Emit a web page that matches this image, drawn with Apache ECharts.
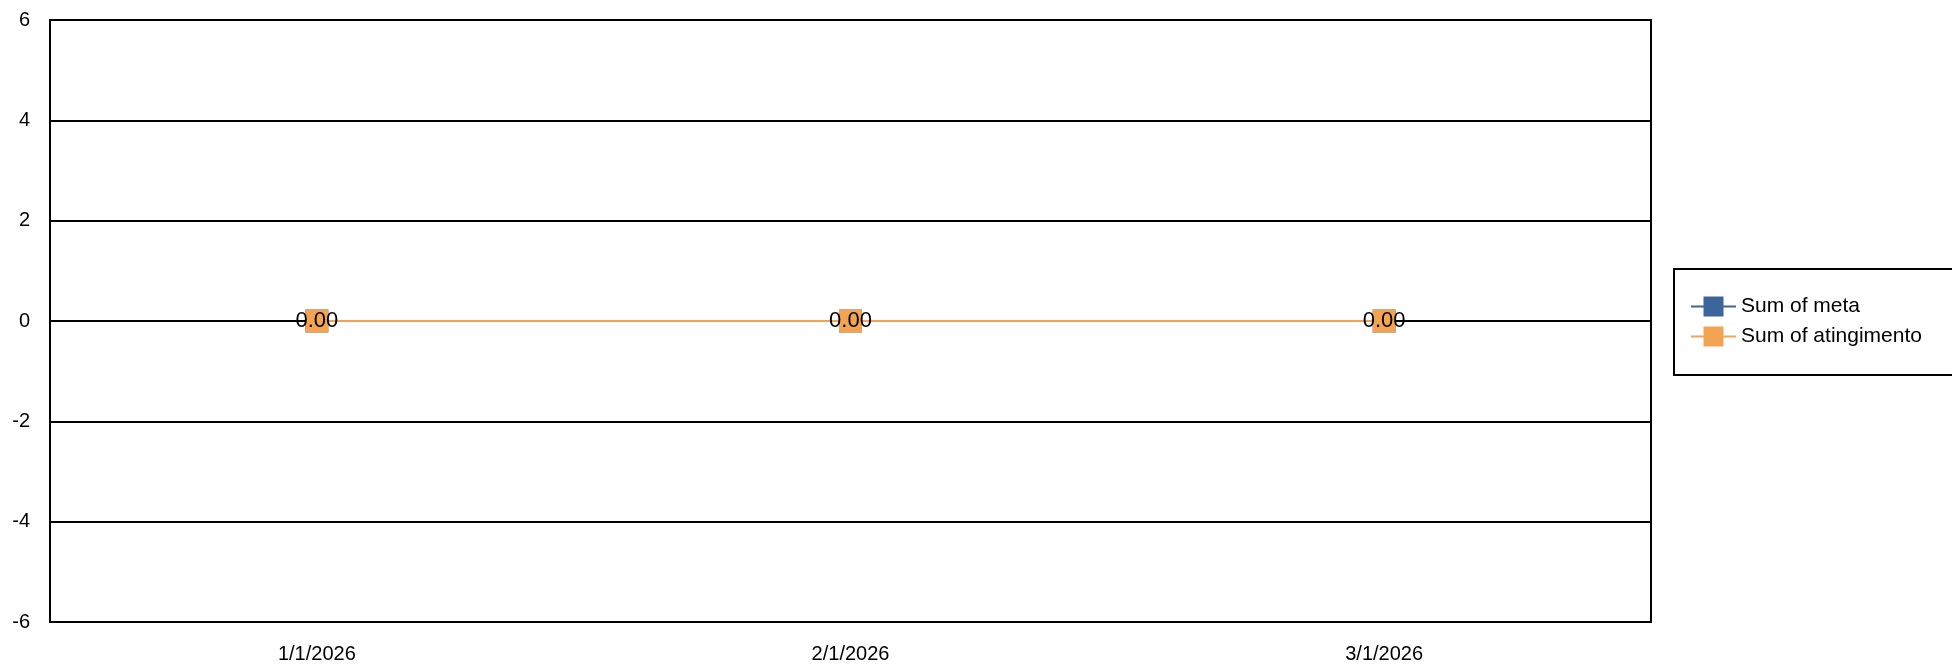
<!DOCTYPE html>
<html>
<head>
<meta charset="utf-8">
<script src="https://cdn.jsdelivr.net/npm/echarts@6/dist/echarts.min.js"></script>
<style>
  html, body { margin: 0; padding: 0; background: #fff; }
  #main { width: 1952px; height: 665px; }
</style>
</head>
<body>
<div id="main"></div>
<script>
// dados do gráfico
var categories = ['1/1/2026', '2/1/2026', '3/1/2026'];
var metaValues = [0, 0, 0];
var atingimentoValues = [0, 0, 0];
var yTicks = { min: -6, max: 6, step: 2 };

var chart = echarts.init(document.getElementById('main'));
var fontFamily = 'Arial, "Liberation Sans", sans-serif';

chart.setOption({
    animation: false,
    backgroundColor: '#fff',
    grid: {
        left: 50,
        right: 301,
        top: 20,
        bottom: 43,
        show: true,
        borderColor: '#000',
        borderWidth: 2,
        backgroundColor: 'transparent'
    },
    legend: {
        orient: 'vertical',
        left: 1674,
        top: 269,
        padding: [27, 120, 28, 16],
        itemGap: 9,
        itemWidth: 45,
        itemHeight: 25,
        borderColor: '#000',
        borderWidth: 2,
        textStyle: { color: '#000', fontSize: 21, fontFamily: fontFamily },
        data: ['Sum of meta', 'Sum of atingimento']
    },
    xAxis: {
        type: 'category',
        data: categories,
        boundaryGap: true,
        axisLine: { show: false },
        axisTick: { show: false },
        axisLabel: { color: '#000', fontSize: 20, fontFamily: fontFamily, margin: 22 }
    },
    yAxis: {
        type: 'value',
        min: yTicks.min,
        max: yTicks.max,
        interval: yTicks.step,
        axisLine: { show: false },
        axisTick: { show: false },
        axisLabel: { color: '#000', fontSize: 20, fontFamily: fontFamily, margin: 20 },
        splitLine: { lineStyle: { color: '#000', width: 2 } }
    },
    series: [
        {
            name: 'Sum of meta',
            type: 'line',
            data: metaValues,
            symbol: 'rect',
            symbolSize: 23,
            itemStyle: { color: '#3b659b' },
            lineStyle: { color: '#3b659b', width: 2 }
        },
        {
            name: 'Sum of atingimento',
            type: 'line',
            data: atingimentoValues,
            symbol: 'rect',
            symbolSize: 23,
            itemStyle: { color: '#f2a453' },
            lineStyle: { color: '#f2a453', width: 2 },
            label: {
                show: true,
                position: 'inside',
                color: '#000',
                fontSize: 22,
                fontFamily: fontFamily,
                formatter: function (p) { return p.value.toFixed(2); }
            }
        }
    ]
});
</script>
</body>
</html>
